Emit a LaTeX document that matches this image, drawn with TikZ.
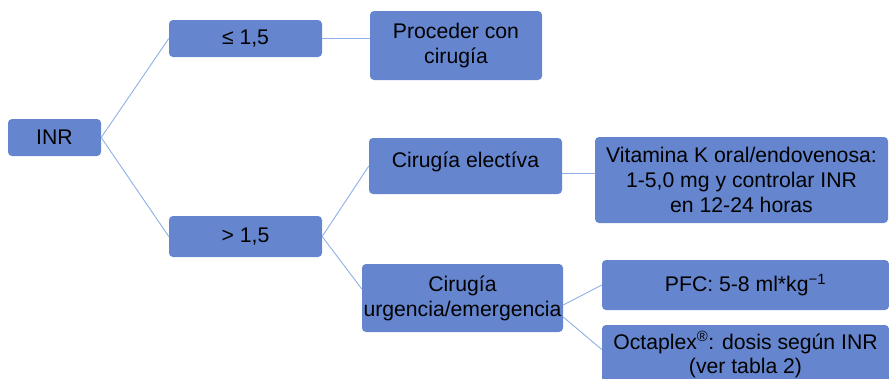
\documentclass[tikz,border=0pt]{standalone}
\usepackage{fontspec}
\setmainfont{Liberation Sans}
\usepackage{tikz}

\definecolor{boxblue}{HTML}{6586CF}
\definecolor{lineblue}{HTML}{8FB0E6}

\begin{document}
\begin{tikzpicture}[x=1pt,y=-1pt,
    box/.style={fill=boxblue,rounded corners=4pt,align=center,inner sep=0pt,
      font=\fontsize{21.2}{25}\selectfont},
    link/.style={draw=lineblue,line width=0.9pt}]
  \useasboundingbox (0,0) rectangle (889,378);
  \clip (0,0) rectangle (889,378);

  \node[box,minimum width=93,minimum height=37] (inr) at (54.5,137.5) {INR};
  \node[box,minimum width=153,minimum height=37] (low) at (245.5,38.5) {≤ 1,5};
  \node[box,minimum width=153,minimum height=41] (high) at (245.5,236.5) {> 1,5};

  \node[box,minimum width=172,minimum height=69] (proc) at (456,45.5) {Proceder con\\cirugía};
  \node[box,minimum width=193,minimum height=56,text depth=13pt] (elec) at (465.5,166) {Cirugía electíva};
  \node[box,minimum width=201,minimum height=68] (urg) at (462.5,298) {Cirugía\\urgencia/emergencia};

  \node[box,minimum width=293,minimum height=86] (vitk) at (741.5,180) {Vitamina K oral/endovenosa:\\1-5,0 mg y controlar INR\\en 12-24 horas};
  \node[box,minimum width=287,minimum height=50] (pfc) at (745.5,285) {PFC: 5-8 ml*kg\textsuperscript{−1}};
  \node[box,minimum width=287,minimum height=59,font=\fontsize{21.2}{24}\selectfont] (octa) at (745.5,354.5) {Octaplex\textsuperscript{®}: dosis según INR\\(ver tabla 2)};

  \draw[link] (inr.east) -- (low.west);
  \draw[link] (inr.east) -- (high.west);
  \draw[link] (low.east) -- (low.east -| proc.west);
  \draw[link] (high.east) -- (elec.west);
  \draw[link] (high.east) -- ([yshift=9pt]urg.west);
  \draw[link] ([yshift=-7pt]elec.east) -- ([yshift=-7pt]elec.east -| vitk.west);
  \draw[link] ([yshift=-7pt]urg.east) -- (pfc.west);
  \draw[link] ([yshift=-19pt]urg.east) -- ([yshift=5pt]octa.west);
\end{tikzpicture}
\end{document}
